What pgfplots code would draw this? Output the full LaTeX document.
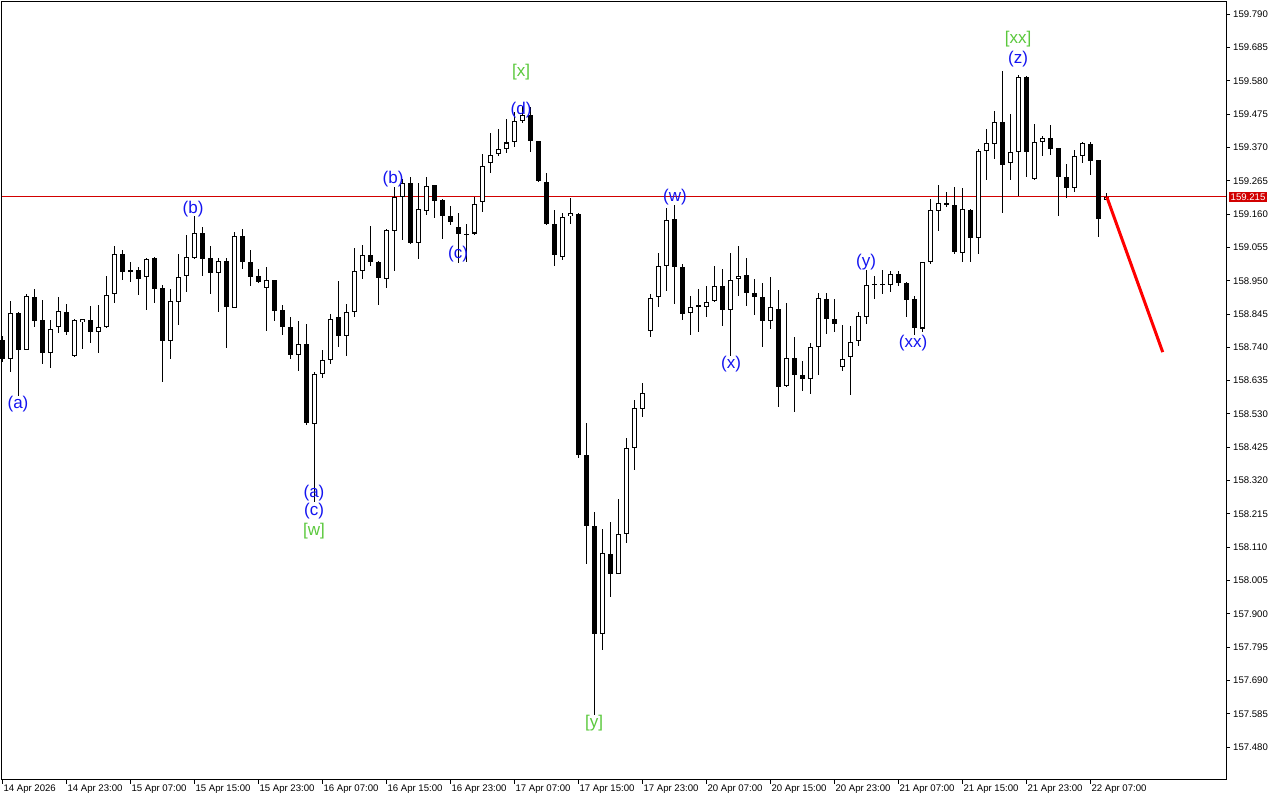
\documentclass[border=0pt]{standalone}
\usepackage{pgfplots}
\pgfplotsset{compat=1.18}
\usepackage{pgfplotstable}
\usepackage{fontspec}
\setmainfont{Liberation Sans}

\definecolor{wblue}{RGB}{20,20,240}
\definecolor{wgreen}{RGB}{90,200,60}
\definecolor{bidred}{RGB}{210,0,0}

% hourly candles, i = bar number, o h l c = open high low close
\pgfplotstableread{
i o h l c
0 158.763 158.776 158.694 158.703
1 158.703 158.886 158.664 158.848
2 158.848 158.851 158.587 158.734
3 158.734 158.909 158.734 158.902
4 158.900 158.924 158.804 158.824
5 158.827 158.890 158.687 158.722
6 158.722 158.827 158.674 158.800
7 158.804 158.898 158.787 158.854
8 158.851 158.877 158.779 158.790
9 158.713 158.830 158.710 158.827
10 158.821 158.830 158.735 158.829
11 158.827 158.871 158.755 158.790
12 158.790 158.874 158.724 158.804
13 158.804 158.965 158.802 158.906
14 158.908 159.060 158.881 159.034
15 159.037 159.047 158.953 158.979
16 158.984 159.009 158.947 158.979
17 158.984 158.993 158.905 158.955
18 158.962 159.024 158.858 159.021
19 159.021 159.024 158.881 158.924
20 158.927 158.937 158.632 158.761
21 158.761 158.924 158.704 158.886
22 158.886 159.037 158.811 158.963
23 158.963 159.095 158.916 159.024
24 159.024 159.155 159.019 159.103
25 159.103 159.119 158.966 159.021
26 159.021 159.060 158.911 158.974
27 158.977 159.021 158.851 159.013
28 159.013 159.024 158.739 158.870
29 158.865 159.103 158.863 159.091
30 159.091 159.114 158.986 159.009
31 159.009 159.047 158.935 158.963
32 158.965 158.989 158.942 158.947
33 158.929 158.993 158.793 158.952
34 158.953 158.955 158.824 158.856
35 158.858 158.874 158.779 158.804
36 158.805 158.837 158.706 158.717
37 158.718 158.823 158.667 158.751
38 158.752 158.814 158.497 158.501
39 158.500 158.664 158.254 158.659
40 158.658 158.732 158.646 158.700
41 158.703 158.845 158.688 158.832
42 158.835 158.950 158.742 158.777
43 158.778 158.877 158.714 158.854
44 158.851 159.055 158.837 158.981
45 158.983 159.065 158.958 159.034
46 159.031 159.126 158.998 159.009
47 159.009 159.012 158.876 158.958
48 158.958 159.114 158.927 159.110
49 159.108 159.246 158.982 159.214
50 159.214 159.271 159.081 159.258
51 159.258 159.277 159.068 159.070
52 159.070 159.258 159.019 159.176
53 159.173 159.277 159.157 159.250
54 159.252 159.255 159.150 159.203
55 159.205 159.208 159.084 159.155
56 159.154 159.186 159.126 159.136
57 159.120 159.163 159.005 159.096
58 159.099 159.128 159.009 159.096
59 159.099 159.217 159.096 159.191
60 159.198 159.349 159.166 159.312
61 159.321 159.416 159.289 159.349
62 159.349 159.431 159.346 159.365
63 159.365 159.459 159.352 159.387
64 159.387 159.483 159.371 159.455
65 159.455 159.501 159.448 159.473
66 159.473 159.501 159.358 159.390
67 159.391 159.392 159.262 159.266
68 159.263 159.289 159.126 159.128
69 159.128 159.172 158.996 159.030
70 159.025 159.163 159.017 159.154
71 159.154 159.210 159.128 159.163
72 159.163 159.165 158.393 158.401
73 158.401 158.502 158.058 158.178
74 158.176 158.221 157.580 157.837
75 157.837 158.168 157.786 158.091
76 158.091 158.189 157.953 158.028
77 158.028 158.264 158.026 158.152
78 158.152 158.455 158.124 158.423
79 158.423 158.574 158.355 158.548
80 158.548 158.630 158.522 158.599
81 158.792 158.909 158.772 158.898
82 158.898 159.039 158.867 158.998
83 158.998 159.182 158.920 159.144
84 159.144 159.189 158.879 158.993
85 158.995 159.003 158.827 158.848
86 158.848 158.902 158.777 158.868
87 158.868 158.924 158.790 158.873
88 158.868 158.933 158.835 158.884
89 158.886 158.999 158.883 158.936
90 158.936 158.987 158.808 158.858
91 158.858 159.037 158.714 158.953
92 158.958 159.062 158.903 158.967
93 158.968 159.021 158.872 158.911
94 158.911 158.958 158.845 158.900
95 158.898 158.945 158.742 158.824
96 158.824 158.962 158.800 158.867
97 158.863 158.923 158.553 158.616
98 158.619 158.882 158.616 158.706
99 158.709 158.774 158.537 158.654
100 158.652 158.697 158.604 158.640
101 158.640 158.755 158.593 158.742
102 158.742 158.913 158.655 158.895
103 158.895 158.913 158.782 158.829
104 158.830 158.893 158.790 158.813
105 158.679 158.811 158.667 158.704
106 158.709 158.806 158.590 158.758
107 158.761 158.853 158.745 158.839
108 158.837 158.984 158.816 158.939
109 158.938 158.966 158.893 158.942
110 158.938 158.984 158.911 158.940
111 158.939 158.982 158.916 158.974
112 158.974 158.982 158.935 158.945
113 158.945 158.947 158.837 158.892
114 158.893 158.905 158.782 158.804
115 158.800 159.011 158.788 159.009
116 159.009 159.210 159.005 159.173
117 159.173 159.252 159.108 159.198
118 159.195 159.231 159.184 159.191
119 159.189 159.246 159.034 159.041
120 159.039 159.242 159.010 159.177
121 159.173 159.176 159.010 159.084
122 159.087 159.366 159.034 159.360
123 159.360 159.429 159.268 159.384
124 159.381 159.486 159.334 159.452
125 159.452 159.612 159.165 159.317
126 159.321 159.478 159.268 159.357
127 159.357 159.599 159.217 159.594
128 159.594 159.596 159.279 159.357
129 159.270 159.445 159.268 159.387
130 159.387 159.407 159.345 159.400
131 159.400 159.442 159.347 159.366
132 159.368 159.370 159.157 159.279
133 159.277 159.319 159.212 159.242
134 159.242 159.362 159.231 159.344
135 159.342 159.387 159.321 159.384
136 159.384 159.387 159.284 159.329
137 159.331 159.333 159.089 159.147
138 159.207 159.226 159.207 159.215
}\candles

\begin{document}
\begin{tikzpicture}
\begin{axis}[
  at={(0pt,0pt)}, anchor=south west,
  width=1224pt, height=778pt, scale only axis,
  xmin=-0.04, xmax=152.96,
  ymin=157.376, ymax=159.829,
  clip=false,
  axis line style={black, line width=1pt},
  tick align=outside,
  major tick length=4pt,
  tick style={black, line width=1pt},
  xtick pos=bottom, ytick pos=right, yticklabel pos=right,
  xtick={0,8,...,136},
  xticklabels={14 Apr 2026, 14 Apr 23:00, 15 Apr 07:00, 15 Apr 15:00, 15 Apr 23:00,
    16 Apr 07:00, 16 Apr 15:00, 16 Apr 23:00, 17 Apr 07:00, 17 Apr 15:00,
    17 Apr 23:00, 20 Apr 07:00, 20 Apr 15:00, 20 Apr 23:00, 21 Apr 07:00,
    21 Apr 15:00, 21 Apr 23:00, 22 Apr 07:00},
  ytick={157.480,157.585,157.690,157.795,157.900,158.005,158.110,158.215,
    158.320,158.425,158.530,158.635,158.740,158.845,158.950,159.055,
    159.160,159.265,159.370,159.475,159.580,159.685,159.790},
  yticklabels={157.480,157.585,157.690,157.795,157.900,158.005,158.110,158.215,
    158.320,158.425,158.530,158.635,158.740,158.845,158.950,159.055,
    159.160,159.265,159.370,159.475,159.580,159.685,159.790},
  ticklabel style={font=\fontsize{9.6}{10}\selectfont},
  xticklabel style={anchor=north west, inner sep=1pt},
  yticklabel style={anchor=west, inner sep=1pt, xshift=2pt},
]

% bid line
\addplot[bidred, line width=1pt, forget plot] coordinates {(-0.04,159.215) (152.96,159.215)};

% wicks
\addplot[draw=none, mark=none, forget plot,
  error bars/.cd, y dir=both, y explicit, error mark=none,
  error bar style={draw=black, line width=1pt}]
  table[x=i, y expr={(\thisrow{h}+\thisrow{l})/2}, y error expr={(\thisrow{h}-\thisrow{l})/2}] {\candles};

% bodies (black for all)
\addplot[draw=none, mark=none, forget plot,
  error bars/.cd, y dir=both, y explicit, error mark=none,
  error bar style={draw=black, line width=5pt}]
  table[x=i, y expr={(\thisrow{o}+\thisrow{c})/2}, y error expr={max(abs(\thisrow{o}-\thisrow{c})/2,0.0017)}] {\candles};

% white inside of rising bars
\addplot[draw=none, mark=none, forget plot,
  error bars/.cd, y dir=both, y explicit, error mark=none,
  error bar style={draw=white, line width=3pt}]
  table[x=i, y expr={\thisrow{c}>\thisrow{o} ? (\thisrow{o}+\thisrow{c})/2 : nan},
    y error expr={max((\thisrow{c}-\thisrow{o})/2-0.0032,0)}] {\candles};

% projection
\addplot[red, line width=3pt, forget plot] coordinates {(138.05,159.215) (145.05,158.725)};

\node[fill=bidred, text=white, anchor=west, inner sep=1.5pt, xshift=3pt,
  font=\fontsize{9.6}{10}\selectfont] at (axis cs:152.96,159.215) {159.215};

% wave labels
\begin{scope}[every node/.style={font=\fontsize{17}{18}\selectfont, inner sep=0pt}]
\node[text=wblue] at (axis cs:1.96,158.562) {(a)};
\node[text=wblue] at (axis cs:23.84,159.177) {(b)};
\node[text=wblue] at (axis cs:38.96,158.281) {(a)};
\node[text=wblue] at (axis cs:38.96,158.224) {(c)};
\node[text=wgreen] at (axis cs:38.96,158.161) {[w]};
\node[text=wblue] at (axis cs:48.84,159.271) {(b)};
\node[text=wblue] at (axis cs:56.96,159.035) {(c)};
\node[text=wblue] at (axis cs:64.84,159.489) {(d)};
\node[text=wgreen] at (axis cs:64.84,159.609) {[x]};
\node[text=wgreen] at (axis cs:73.96,157.556) {[y]};
\node[text=wblue] at (axis cs:84.09,159.214) {(w)};
\node[text=wblue] at (axis cs:91.09,158.688) {(x)};
\node[text=wblue] at (axis cs:107.96,159.009) {(y)};
\node[text=wblue] at (axis cs:113.84,158.754) {(xx)};
\node[text=wblue] at (axis cs:126.96,159.650) {(z)};
\node[text=wgreen] at (axis cs:126.96,159.713) {[xx]};
\end{scope}
\end{axis}
\pgfresetboundingbox
\path[use as bounding box] (-2pt,-20pt) rectangle (1278pt,780pt);
\end{tikzpicture}
\end{document}
